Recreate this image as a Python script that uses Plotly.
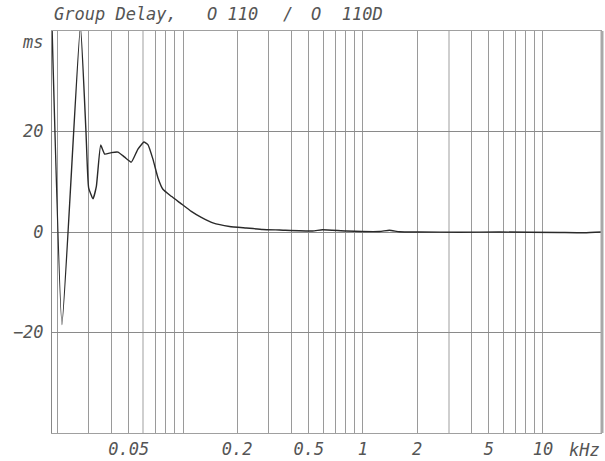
import math
import plotly.graph_objects as go

# Frequency in kHz and group delay in ms
freq_khz = [0.01871, 0.02126, 0.02690, 0.02889, 0.02990, 0.03160, 0.03301, 0.03487,
            0.03669, 0.03997, 0.04349, 0.04739, 0.05163, 0.05618, 0.06065, 0.06383,
            0.06806, 0.07255, 0.07732, 0.08610, 0.09785, 0.1112, 0.1264, 0.1466,
            0.1814, 0.2246, 0.2777, 0.3438, 0.5243, 0.5957, 0.8065, 1.235, 1.403,
            1.595, 2.060, 3.435, 5.727, 12.33, 16.98, 21.29]
delay_ms = [41, -18.4, 41, 20.0, 8.8, 6.6, 9.1, 17.3,
            15.5, 15.8, 15.9, 14.9, 13.9, 16.5, 17.9, 17.4,
            14.5, 10.8, 8.5, 7.1, 5.6, 4.1, 2.9, 1.8,
            1.1, 0.8, 0.5, 0.4, 0.2, 0.45, 0.2, 0.1, 0.35,
            0.05, 0.0, -0.05, 0.0, -0.1, -0.15, 0.0]

x_grid = [0.02, 0.03, 0.04, 0.05, 0.07, 0.08, 0.09, 0.1, 0.2, 0.3, 0.4, 0.5,
          0.6, 0.7, 0.8, 0.9, 1, 2, 4, 5, 6, 7, 8, 9, 10]
x_labels = {0.05: "0.05", 0.2: "0.2", 0.5: "0.5", 1: "1", 2: "2", 5: "5", 10: "10"}
x_light_grid = [0.06, 3]
y_ticks = [-20, 0, 20]
y_labels = ["\u221220", "0", "20"]

x_range = [0.01871, 21.29]
y_range = [-40, 40]

FONT = "DejaVu Sans Mono"
TXT = "#555555"
tfont = dict(family=FONT, size=17, color=TXT, style="italic")

fig = go.Figure()
fig.add_trace(go.Scatter(x=freq_khz, y=delay_ms, mode="lines",
                         line=dict(color="#2a2a2a", width=1.4, shape="spline", smoothing=0.4),
                         showlegend=False, hoverinfo="skip"))

fig.update_layout(
    width=605, height=461,
    margin=dict(l=52, r=3, t=31, b=28, autoexpand=False),
    paper_bgcolor="white", plot_bgcolor="white",
    xaxis=dict(
        type="log",
        automargin=False,
        range=[math.log10(x_range[0]), math.log10(x_range[1])],
        tickmode="array",
        tickvals=x_grid,
        ticktext=[x_labels.get(v, "") for v in x_grid],
        tickangle=0,
        showgrid=True, gridcolor="#9a9a9a", gridwidth=1,
        ticks="outside", ticklen=1, tickcolor="rgba(0,0,0,0)",
        tickfont=tfont,
        showline=True, linecolor="#a0a0a0", linewidth=1, mirror=True,
        zeroline=False,
        minor=dict(tickmode="array", tickvals=x_light_grid, showgrid=True,
                   gridcolor="#cfcfcf", gridwidth=2, ticks=""),
    ),
    yaxis=dict(
        automargin=False,
        range=y_range,
        tickmode="array",
        tickvals=y_ticks,
        ticktext=y_labels,
        showgrid=True, gridcolor="#8a8a8a", gridwidth=1,
        ticks="outside", ticklen=4, tickcolor="rgba(0,0,0,0)",
        tickfont=tfont,
        showline=True, linecolor="#888888", linewidth=1,
        zeroline=False,
    ),
    shapes=[dict(type="line", xref="paper", yref="paper", x0=1, x1=1, y0=0, y1=1,
                 line=dict(color="#a8a8a8", width=3))],
    annotations=[
        dict(text="Group Delay,", xref="paper", yref="paper", x=0, y=1.042,
             xanchor="left", yanchor="middle", showarrow=False, font=tfont),
        dict(text="O 110", xref="paper", yref="paper", x=(205 - 52) / 550, y=1.042,
             xanchor="left", yanchor="middle", showarrow=False, font=tfont),
        dict(text="/", xref="paper", yref="paper", x=(288 - 52) / 550, y=1.042,
             xanchor="center", yanchor="middle", showarrow=False, font=tfont),
        dict(text="O  110D", xref="paper", yref="paper", x=(309 - 52) / 550, y=1.042,
             xanchor="left", yanchor="middle", showarrow=False, font=tfont),
        dict(text="ms", xref="paper", yref="y", x=-7 / 550, y=37.8,
             xanchor="right", yanchor="middle", showarrow=False, font=tfont),
        dict(text="kHz", xref="paper", yref="paper", x=1, y=-0.042,
             xanchor="right", yanchor="middle", showarrow=False, font=tfont),
    ],
)

fig.write_html("out.html",
               config={"displayModeBar": False},
               post_script="document.body.style.margin='0';document.body.style.overflow='hidden';")
